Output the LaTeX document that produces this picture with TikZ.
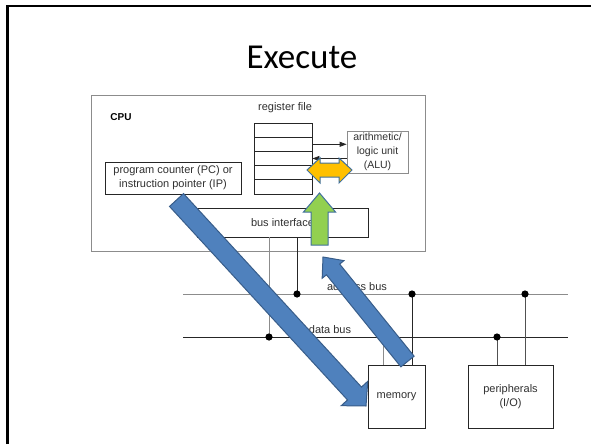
\documentclass[tikz,border=0pt]{standalone}
\usepackage{fontspec}
\setmainfont{Liberation Sans}
\newfontfamily\titlefont{Carlito}
\usetikzlibrary{calc,arrows.meta}

\definecolor{linegray}{HTML}{8C8C8C}
\definecolor{linedark}{HTML}{262626}
\definecolor{txt}{HTML}{303030}
\definecolor{bluefill}{HTML}{4F81BD}
\definecolor{blueedge}{HTML}{385D8A}
\definecolor{greenfill}{HTML}{92D050}
\definecolor{orangefill}{HTML}{FFC000}
\definecolor{arrowedge}{HTML}{41719C}

% block arrow: style, tail, tip, half shaft width, half head width, head length (all in pt)
\newcommand\blockarrow[6]{%
  \coordinate (ba-h) at ($(#3)!#6pt!(#2)$);
  \draw[#1] ($(#2)!#4pt!90:(#3)$) -- ($(ba-h)!#4pt!90:(#3)$) -- ($(ba-h)!#5pt!90:(#3)$)
    -- (#3) -- ($(ba-h)!#5pt!-90:(#3)$) -- ($(ba-h)!#4pt!-90:(#3)$)
    -- ($(#2)!#4pt!-90:(#3)$) -- cycle;}

\tikzset{
  box/.style={draw=#1, line width=0.8pt, fill=white, inner sep=0pt},
  box/.default=linedark,
  lbl/.style={font=\fontsize{11}{14}\selectfont, text=txt, inner sep=0pt, align=center},
  busline/.style={line width=0.8pt, draw=#1},
  dot/.style={fill=black},
  smallarrow/.style={line width=0.8pt, draw=linedark, -{Triangle[length=7pt,width=5pt]}},
  bluearrow/.style={fill=bluefill, draw=blueedge, line width=1pt, line join=miter},
}

\begin{document}
\begin{tikzpicture}[x=1pt,y=-1pt]
\useasboundingbox (0,0) rectangle (591,444);
\fill[white] (0,0) rectangle (591,444);

% slide frame
\draw[line width=2.5pt, black] (7.5,444) -- (7.5,6.2) -- (591,6.2);

% title
\node[font=\titlefont\fontsize{35}{42}\selectfont, inner sep=0pt] (title) at (302,57) {Execute};

% CPU
\node[box=linegray, minimum width=334, minimum height=156] (cpu) at (258,173) {};
\node[font=\bfseries\fontsize{10}{12}\selectfont, inner sep=0pt] (cpulbl) at (121,117) {CPU};

% register file
\node[lbl] (rflbl) at (285,108) {register file};
\foreach \i/\y in {1/130.1,2/144.3,3/158.5,4/172.7,5/186.9}
  \node[box, minimum width=58, minimum height=14.2] (r\i) at (283,\y) {};

% ALU
\node[box=linegray, minimum width=61, minimum height=42] (alu) at (377.5,152) {};
\node[lbl, font=\fontsize{10.5}{14}\selectfont] (alutxt) at (alu.center) {arithmetic/\\logic unit\\(ALU)};
\draw[smallarrow] (r2.east) -- (alu.west |- r2.east);
\draw[smallarrow] (alu.west |- r3.east) -- (r3.east);

% program counter
\node[box, minimum width=136, minimum height=32] (pc) at (173,178) {};
\node[lbl] (pctxt) at (pc.center) {program counter (PC) or\\instruction pointer (IP)};

% bus interface
\node[box, minimum width=171, minimum height=29] (bi) at (282.5,222.5) {};
\node[lbl] (bitxt) at (bi.center) {bus interface};

% memory and peripherals
\node[box, minimum width=57, minimum height=63] (mem) at (396.5,396.5) {};
\node[lbl] (memtxt) at (mem.center) {memory};
\node[box, minimum width=85, minimum height=63] (io) at (510.5,396.5) {};
\node[lbl] (iotxt) at (io.center) {peripherals\\(I/O)};

% buses
\coordinate (abw) at (183,294); \coordinate (abe) at (568,294);
\coordinate (dbw) at (183,337); \coordinate (dbe) at (568,337);
\draw[busline=linegray] (abw) -- (abe);
\draw[busline=linedark] (dbw) -- (dbe);
\node[lbl] (ablbl) at (357,287) {address bus};
\node[lbl] (dblbl) at (330,330) {data bus};

% bus taps
\coordinate (j1) at (269,337);
\coordinate (j2) at (297,294);
\coordinate (j3) at (383,337);
\coordinate (j4) at (412,294);
\coordinate (j5) at (497,337);
\coordinate (j6) at (525,294);
\draw[busline=linegray] (bi.south -| j1) -- (j1);
\draw[busline=linedark] (bi.south -| j2) -- (j2);
\draw[busline=linegray] (j3) -- (mem.north -| j3);
\draw[busline=linedark] (j4) -- (mem.north -| j4);
\draw[busline=linedark!80] (j5) -- (io.north -| j5);
\draw[busline=linedark!80] (j6) -- (io.north -| j6);
\foreach \j in {j1,j2,j3,j4,j5,j6} \fill[dot] (\j) circle (3.6);

% data movement arrows
\draw[fill=orangefill, draw=arrowedge, line width=1pt]
  (307,170) -- (320,158) -- (320,163) -- (339,163) -- (339,158) -- (352,170)
  -- (339,183) -- (339,177) -- (320,177) -- (320,183) -- cycle;

\coordinate (gtail) at (319.5,245);
\coordinate (gtip) at (319.5,193);
\blockarrow{fill=greenfill, draw=arrowedge, line width=1pt}{gtail}{gtip}{8.5}{16}{19}

\coordinate (b1tail) at (176.5,200);
\coordinate (b1tip) at (366,406);
\blockarrow{bluearrow}{b1tail}{b1tip}{9.5}{18}{17}

\coordinate (b2tail) at (407.5,361.5);
\coordinate (b2tip) at (323,257);
\blockarrow{bluearrow}{b2tail}{b2tip}{8.5}{14}{16}
\end{tikzpicture}
\end{document}
